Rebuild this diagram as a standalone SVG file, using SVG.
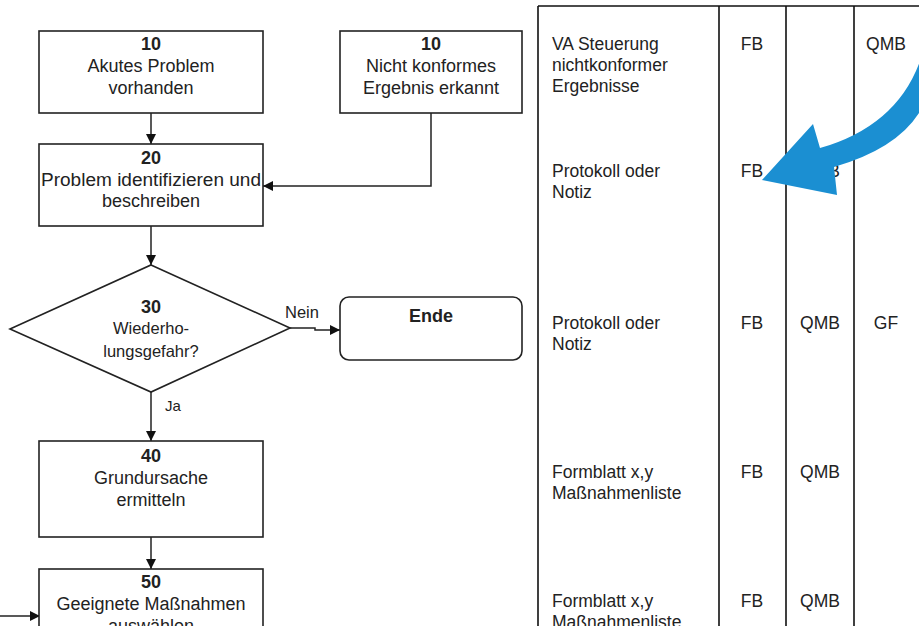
<svg xmlns="http://www.w3.org/2000/svg" width="919" height="626" viewBox="0 0 919 626">
<defs>
<style>
.box{fill:#fff;stroke:#222;stroke-width:1.6}
.t{font-family:"Liberation Sans",Arial,sans-serif;font-size:18px;fill:#222;text-anchor:middle}
.b{font-weight:bold}
.d{font-size:16.5px}
.c{font-family:"Liberation Sans",Arial,sans-serif;font-size:17.5px;fill:#222}
.cm{text-anchor:middle}
.ln{fill:none;stroke:#222;stroke-width:1.5}
.tl{fill:none;stroke:#111;stroke-width:1.6}
</style>
<marker id="ah" viewBox="0 0 10 10" refX="10" refY="5" markerWidth="10" markerHeight="10" markerUnits="userSpaceOnUse" orient="auto">
<path d="M0,0 L10,5 L0,10 z" fill="#111"/>
</marker>
</defs>
<rect width="919" height="626" fill="#fff"/>

<g id="table">
<path class="tl" d="M538 6 H919 M538 6 V626 M719 6 V626 M786 6 V626 M854 6 V626"/>
<g class="c">
<text x="552" y="50">VA Steuerung</text>
<text x="552" y="71">nichtkonformer</text>
<text x="552" y="92">Ergebnisse</text>
<text x="752" y="50" class="cm">FB</text>
<text x="886" y="50" class="cm">QMB</text>
<text x="552" y="177">Protokoll oder</text>
<text x="552" y="198">Notiz</text>
<text x="752" y="177" class="cm">FB</text>
<text x="820" y="177" class="cm">QMB</text>
<text x="552" y="329">Protokoll oder</text>
<text x="552" y="350">Notiz</text>
<text x="752" y="329" class="cm">FB</text>
<text x="820" y="329" class="cm">QMB</text>
<text x="886" y="329" class="cm">GF</text>
<text x="552" y="478">Formblatt x,y</text>
<text x="552" y="499">Maßnahmenliste</text>
<text x="752" y="478" class="cm">FB</text>
<text x="820" y="478" class="cm">QMB</text>
<text x="552" y="607">Formblatt x,y</text>
<text x="552" y="628">Maßnahmenliste</text>
<text x="752" y="607" class="cm">FB</text>
<text x="820" y="607" class="cm">QMB</text>
</g>
</g>

<g id="connectors">
<path class="ln" d="M151 113 V144" marker-end="url(#ah)"/>
<path class="ln" d="M431 113 V186 H263" marker-end="url(#ah)"/>
<path class="ln" d="M151 226 V265" marker-end="url(#ah)"/>
<path class="ln" d="M290 328 H315 V330 H340" marker-end="url(#ah)"/>
<path class="ln" d="M151 392 V441" marker-end="url(#ah)"/>
<path class="ln" d="M151 537 V569" marker-end="url(#ah)"/>
<path class="ln" d="M0 616 H40" marker-end="url(#ah)"/>
<text class="t d" x="302" y="318">Nein</text>
<text class="t d" x="173" y="411" style="font-size:15px">Ja</text>
</g>

<g id="n10a">
<rect class="box" x="39" y="31" width="224" height="82"/>
<text class="t b" x="151" y="50">10</text>
<text class="t" x="151" y="72">Akutes Problem</text>
<text class="t" x="151" y="94">vorhanden</text>
</g>
<g id="n10b">
<rect class="box" x="340" y="31" width="182" height="82"/>
<text class="t b" x="431" y="50">10</text>
<text class="t" x="431" y="72">Nicht konformes</text>
<text class="t" x="431" y="94">Ergebnis erkannt</text>
</g>
<g id="n20">
<rect class="box" x="39" y="144" width="224" height="82"/>
<text class="t b" x="151" y="164">20</text>
<text class="t" x="151" y="186" textLength="220" lengthAdjust="spacingAndGlyphs">Problem identifizieren und</text>
<text class="t" x="151" y="207">beschreiben</text>
</g>
<g id="n30">
<path class="box" d="M151 265 L290 328 L151 392 L10 329 Z"/>
<text class="t b" x="151" y="313">30</text>
<text class="t d" x="151" y="334">Wiederho-</text>
<text class="t d" x="151" y="357">lungsgefahr?</text>
</g>
<g id="ende">
<rect class="box" x="340" y="297" width="182" height="63" rx="9"/>
<text class="t b" x="431" y="322">Ende</text>
</g>
<g id="n40">
<rect class="box" x="39" y="441" width="224" height="96"/>
<text class="t b" x="151" y="462">40</text>
<text class="t" x="151" y="484">Grundursache</text>
<text class="t" x="151" y="506">ermitteln</text>
</g>
<g id="n50">
<rect class="box" x="39" y="569" width="224" height="70"/>
<text class="t b" x="151" y="588">50</text>
<text class="t" x="151" y="610">Geeignete Maßnahmen</text>
<text class="t" x="151" y="632">auswählen</text>
</g>

<g id="bluearrow">
<path d="M762 180 L813 124 L820 148 Q900 125 922 55 L922 108 Q900 148 834 167 L837 195 Z" fill="#1b8fd2"/>
</g>
</svg>
